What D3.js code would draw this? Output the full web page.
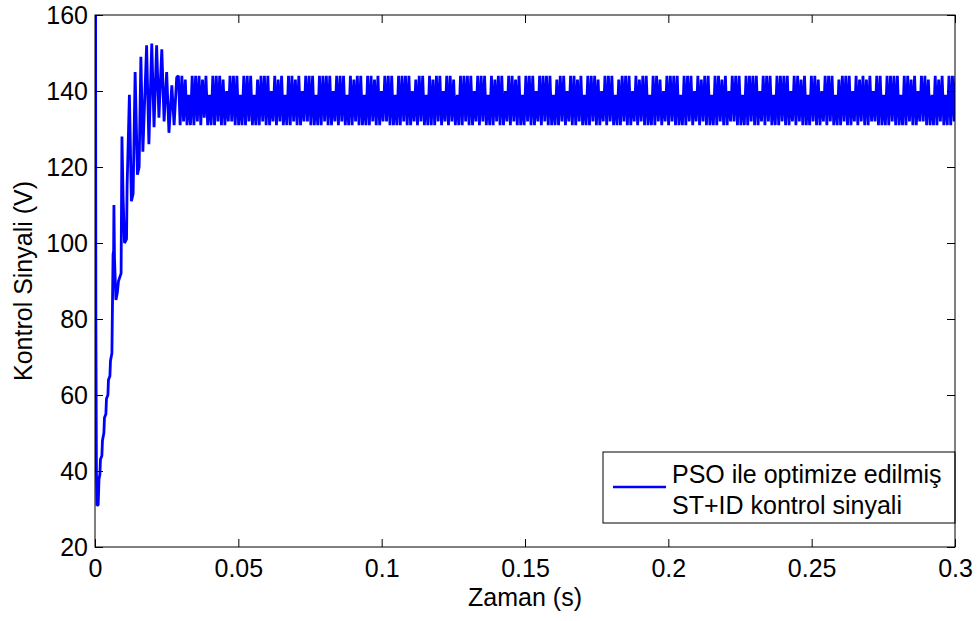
<!DOCTYPE html>
<html>
<head>
<meta charset="utf-8">
<script src="https://cdn.jsdelivr.net/npm/d3@7"></script>
<style>
  body { margin: 0; background: #fff; }
  text { font-family: "Liberation Sans", Arial, sans-serif; fill: #000; }
</style>
</head>
<body>
<svg width="977" height="621"></svg>
<script>
// start-up transient (time in s, signal in V)
const transientT = [0, 0.0002, 0.0003, 0.0005, 0.0007, 0.0011, 0.0014, 0.0017, 0.0019, 0.0024,
  0.0026, 0.0031, 0.0033, 0.0038, 0.0040, 0.0045, 0.0047, 0.0052, 0.0054, 0.0059,
  0.0063, 0.0065, 0.0066, 0.0068, 0.0073, 0.0078, 0.0082, 0.0091, 0.0094, 0.0098,
  0.0103, 0.0110, 0.0112, 0.0120, 0.0127, 0.0133, 0.0140, 0.0148, 0.0154, 0.0160,
  0.0167, 0.0180, 0.0188, 0.0198, 0.0206, 0.0215, 0.0223, 0.0233, 0.0241, 0.0250,
  0.0258, 0.0268, 0.0276, 0.0285];
const transientV = [160, 160, 80, 40, 31, 31, 38, 39, 43, 44,
  48, 50, 54, 55, 59, 60, 64, 65, 69, 71,
  97, 98, 110, 96, 85, 87, 90, 92, 128, 112,
  100, 101, 115, 139, 111, 113, 145, 118, 120, 149,
  124, 152, 126, 152.5, 130.5, 152, 133, 151, 132, 145,
  129, 141.5, 131, 143.6];

// steady-state oscillation: successive extremes, one every half period
const ssStart = 0.0285;
const ssHalfPeriod = 0.0006;
const ssExtremes = [
  144,131,144,132,143,131,139,131,144,131,144,132,144,131,143,133,144,131,139,131,
  144,131,144,132,144,131,143,131,140,132,144,132,144,131,144,131,139,131,144,131,
  144,132,144,131,139,131,143,131,144,132,144,131,144,131,140,132,144,131,143,132,
  144,131,139,131,144,131,144,132,143,131,144,131,140,132,144,132,144,131,144,131,
  139,131,144,131,144,132,144,131,144,131,140,132,144,131,144,132,144,131,139,131,
  144,131,143,132,144,131,144,131,139,131,144,131,144,132,143,131,144,131,140,132,
  144,132,144,131,144,131,139,131,144,131,144,132,144,131,144,131,140,132,143,131,
  144,132,144,131,139,131,144,131,143,131,144,132,144,131,140,132,144,131,144,132,
  143,131,139,131,144,131,144,132,144,131,144,131,140,132,144,131,144,132,144,131,
  139,131,144,131,143,132,144,131,144,131,140,132,144,131,144,132,143,131,144,131,
  139,131,144,132,144,131,144,131,140,132,144,131,144,132,144,131,144,131,139,131,
  143,131,144,132,144,131,140,132,144,131,144,131,143,132,144,131,139,131,144,131,
  144,132,144,131,143,131,140,132,144,131,144,132,144,131,139,131,143,131,144,132,
  144,131,144,131,140,132,144,131,143,132,144,131,144,131,139,131,144,131,144,132,
  143,131,140,132,144,131,144,132,144,131,144,131,139,131,144,131,144,132,144,131,
  140,132,144,131,143,132,144,131,144,131,139,131,144,131,144,132,143,131,144,131,
  140,132,144,132,144,131,144,131,139,131,144,131,144,132,144,131,144,131,140,132,
  144,131,144,132,144,131,139,131,144,131,144,132,144,131,144,131,140,132,144,131,
  144,132,143,131,144,131,139,131,144,132,144,131,143,131,140,132,144,131,144,132,
  144,131,139,131,143,131,144,132,144,131,144,131,140,132,144,131,143,132,144,131,
  143,131,144,132,140,132,144,131,144,131,139,131,144,131,144,132,144,131,144,131,
  139,131,144,131,144,132,143,131,144,131,140,132,144,132,144,131,143,131,139,131,
  144,131,143,132,144,131,139,131,144,131,144,132,144,131,140,132,144,131,144,132,
  144,131,144,131,139,131,144,132,144,131,144,131,140,132,143,131,144,132,144,131
];

const xTicks = [0, 0.05, 0.1, 0.15, 0.2, 0.25, 0.3];
const xTickLabels = ['0', '0.05', '0.1', '0.15', '0.2', '0.25', '0.3'];
const yTicks = [20, 40, 60, 80, 100, 120, 140, 160];

const seriesName = ['PSO ile optimize edilmiş', 'ST+ID kontrol sinyali'];

const svg = d3.select('svg');
const margin = { top: 15, right: 22, bottom: 74, left: 95 };
const width = +svg.attr('width');
const height = +svg.attr('height');
const innerWidth = width - margin.left - margin.right;
const innerHeight = height - margin.top - margin.bottom;
const fontSize = 25;

const data = transientT.map((t, i) => ({ t, v: transientV[i] }));
ssExtremes.forEach((v, i) => data.push({ t: ssStart + (i + 1) * ssHalfPeriod, v }));

const xScale = d3.scaleLinear().domain([0, 0.3]).range([0, innerWidth]);
const yScale = d3.scaleLinear().domain([20, 160]).range([innerHeight, 0]);

const g = svg.append('g')
  .attr('transform', `translate(${margin.left},${margin.top})`);

g.append('clipPath').attr('id', 'clip')
  .append('rect')
  .attr('width', innerWidth)
  .attr('height', innerHeight);

const line = d3.line()
  .x(d => xScale(d.t))
  .y(d => yScale(d.v));

g.append('path')
  .datum(data)
  .attr('clip-path', 'url(#clip)')
  .attr('fill', 'none')
  .attr('stroke', '#0000ff')
  .attr('stroke-width', 2.8)
  .attr('stroke-linejoin', 'bevel')
  .attr('d', line);

// axes, matlab style: ticks inside on all four sides
const tickLen = 8;
const xAxisBottom = d3.axisBottom(xScale)
  .tickValues(xTicks)
  .tickSizeInner(-tickLen).tickSizeOuter(0)
  .tickPadding(12)
  .tickFormat((d, i) => xTickLabels[i]);
const xAxisTop = d3.axisTop(xScale)
  .tickValues(xTicks)
  .tickSizeInner(-tickLen).tickSizeOuter(0)
  .tickFormat('');
const yAxisLeft = d3.axisLeft(yScale)
  .tickValues(yTicks)
  .tickSizeInner(-tickLen).tickSizeOuter(0)
  .tickPadding(7)
  .tickFormat(d3.format('d'));
const yAxisRight = d3.axisRight(yScale)
  .tickValues(yTicks)
  .tickSizeInner(-tickLen).tickSizeOuter(0)
  .tickFormat('');

const styleAxis = sel => {
  sel.selectAll('.domain').remove();
  sel.selectAll('.tick line').attr('stroke', '#000');
  sel.selectAll('.tick text')
    .attr('font-size', fontSize)
    .attr('font-family', '"Liberation Sans", Arial, sans-serif')
    .attr('fill', '#000');
};

g.append('g').attr('transform', `translate(0,${innerHeight})`)
  .call(xAxisBottom).call(styleAxis);
g.append('g').call(xAxisTop).call(styleAxis);
g.append('g').call(yAxisLeft).call(styleAxis);
g.append('g').attr('transform', `translate(${innerWidth},0)`)
  .call(yAxisRight).call(styleAxis);

// legend
const legend = g.append('g')
  .attr('transform', `translate(${508},${437})`);
legend.append('rect')
  .attr('width', innerWidth - 508)
  .attr('height', 71)
  .attr('fill', '#fff')
  .attr('stroke', '#000')
  .attr('stroke-width', 1);
legend.append('line')
  .attr('x1', 10).attr('x2', 63)
  .attr('y1', 35).attr('y2', 35)
  .attr('stroke', '#0000ff')
  .attr('stroke-width', 2.5);
legend.selectAll('text.entry')
  .data(seriesName)
  .enter().append('text')
  .attr('class', 'entry')
  .attr('x', 69)
  .attr('y', (d, i) => 31 + i * 31)
  .attr('font-size', fontSize)
  .text(d => d);

// plot box
g.append('rect')
  .attr('width', innerWidth)
  .attr('height', innerHeight)
  .attr('fill', 'none')
  .attr('stroke', '#000')
  .attr('stroke-width', 1);

// axis labels
svg.append('text')
  .attr('x', margin.left + innerWidth / 2)
  .attr('y', 606)
  .attr('text-anchor', 'middle')
  .attr('font-size', fontSize)
  .text('Zaman (s)');

svg.append('text')
  .attr('transform', `translate(32,${margin.top + innerHeight / 2}) rotate(-90)`)
  .attr('text-anchor', 'middle')
  .attr('font-size', fontSize)
  .text('Kontrol Sinyali (V)');
</script>
</body>
</html>
